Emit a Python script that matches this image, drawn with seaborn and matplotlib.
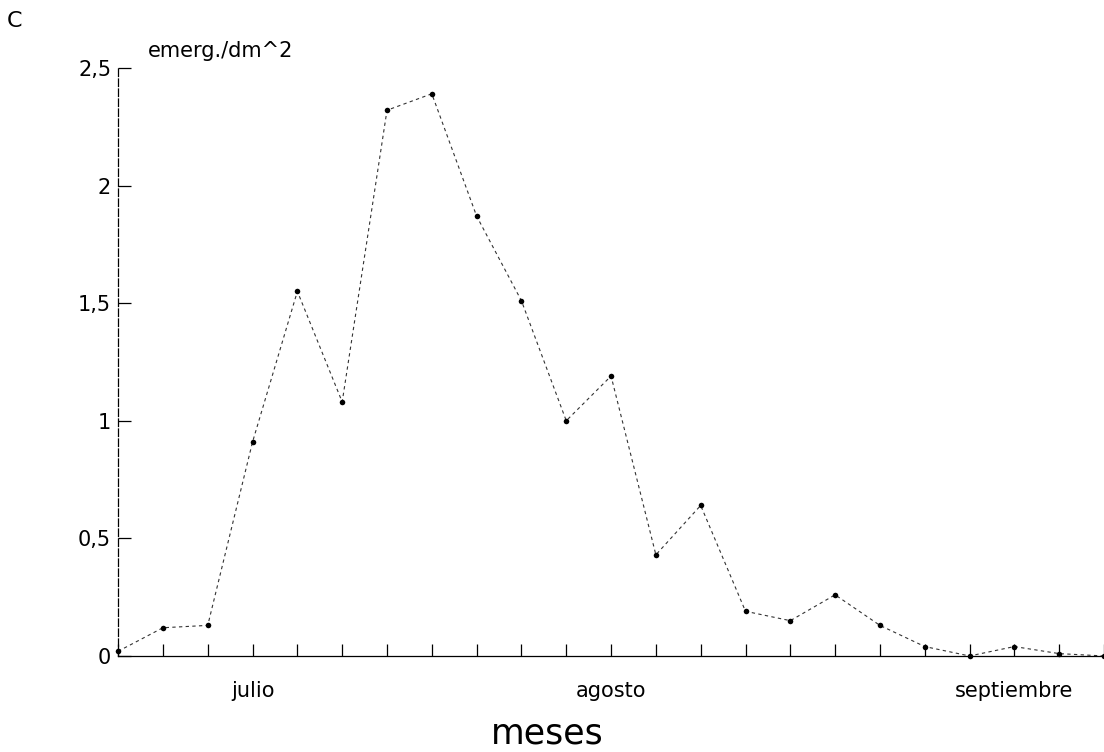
import pandas as pd
import matplotlib.pyplot as plt
import seaborn as sns

# Plain white style, wide sans font like the original plotter lettering
sns.set_theme(style="white")
plt.rcParams['font.family'] = ['DejaVu Sans']
plt.rcParams['text.color'] = 'black'
plt.rcParams['axes.labelcolor'] = 'black'
plt.rcParams['xtick.color'] = 'black'
plt.rcParams['ytick.color'] = 'black'

# weekly samples (x position index) and emergence per dm^2
semanas = list(range(23))
emergencia = [0.02, 0.12, 0.13, 0.91, 1.55, 1.08, 2.32, 2.39, 1.87, 1.51,
              1.00, 1.19, 0.43, 0.64, 0.19, 0.15, 0.26, 0.13, 0.04, 0.00,
              0.04, 0.01, 0.00]
meses = {3: 'julio', 11: 'agosto', 20: 'septiembre'}
y_ticks = [0, 0.5, 1, 1.5, 2, 2.5]
y_labels = ['0', '0,5', '1', '1,5', '2', '2,5']

df = pd.DataFrame({'semana': semanas, 'emergencia': emergencia})

fig = plt.figure(figsize=(11.04, 7.52), dpi=100)
ax = fig.add_axes([0.107, 0.1277, 0.893, 0.782])

sns.lineplot(data=df, x='semana', y='emergencia', ax=ax, color='#333333',
             linewidth=0.8, linestyle=(0, (3, 3)), marker='o', markersize=4,
             markeredgewidth=0, markerfacecolor='black', clip_on=False)

ax.set_xlim(0, 22)
ax.set_ylim(0, 2.5)
ax.set_yticks(y_ticks)
ax.set_yticklabels(y_labels)
ax.set_xticks(semanas)
ax.set_xticklabels([meses.get(s, '') for s in semanas])

for side in ['top', 'right']:
    ax.spines[side].set_visible(False)
ax.spines['left'].set_linestyle((0, (6, 2)))
for side in ['left', 'bottom']:
    ax.spines[side].set_color('black')
    ax.spines[side].set_linewidth(0.9)

ax.tick_params(axis='both', direction='in', length=9, width=0.9,
               bottom=True, left=True)
ax.tick_params(axis='x', pad=18, labelsize=15)
ax.tick_params(axis='y', pad=5, labelsize=15)

ax.set_ylabel('emerg./dm^2', rotation=0, ha='left', va='bottom', fontsize=15)
ax.yaxis.set_label_coords(0.03, 1.012)
ax.set_xlabel('meses', fontsize=25, va='baseline')
ax.xaxis.set_label_coords(0.435, -0.148)

fig.text(0.006, 0.985, 'C', fontsize=16, ha='left', va='top')

fig.savefig('out.png', dpi=100)
